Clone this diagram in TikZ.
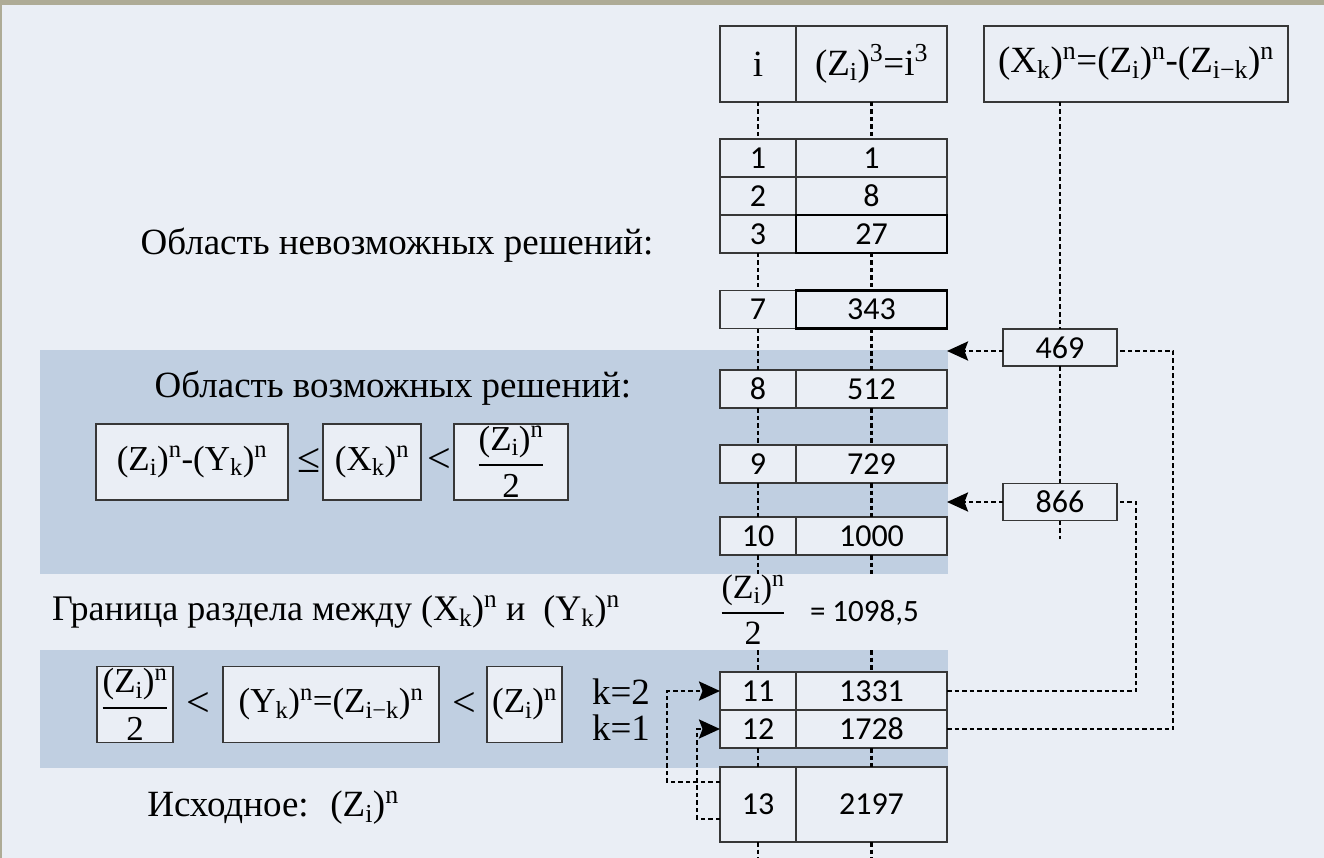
\RequirePackage{fix-cm}
\documentclass[tikz,border=0pt]{standalone}
\usepackage{amsmath}
\usepackage{fontspec}
\setmainfont{Liberation Serif}
\newfontfamily\numfont{Carlito}
\usetikzlibrary{arrows.meta,calc}
\definecolor{bgc}{RGB}{234,238,245}
\definecolor{bandc}{RGB}{192,207,225}
\definecolor{framec}{RGB}{174,171,150}
\definecolor{boxc}{RGB}{55,55,55}
\newcommand\Zi{(Z\textsubscript{i})}
\newcommand\sups[1]{\textsuperscript{#1}}
\newcommand\subs[1]{\textsubscript{#1}}
\newcommand\zfrac{$\genfrac{}{}{1.6pt}{0}{\text{\Zi\sups{n}}}{\text{2}}$}
\begin{document}
\begin{tikzpicture}[x=1pt,y=-1pt,
  every node/.style={inner sep=0pt, outer sep=0pt},
  cell/.style={draw=boxc, line width=1.3pt, fill=bgc, minimum height=38pt, font=\numfont\fontsize{32}{35}\selectfont},
  icell/.style={cell, minimum width=76pt},
  vcell/.style={cell, minimum width=151pt},
  vbold/.style={vcell, draw=black, line width=2.4pt},
  hdr/.style={draw=boxc, line width=1.3pt, fill=bgc, minimum height=76pt, font=\fontsize{37}{42}\selectfont},
  fbx/.style={draw=boxc, line width=1.3pt, fill=bgc, minimum height=76pt, font=\fontsize{35}{40}\selectfont},
  lbl/.style={font=\fontsize{37}{42}\selectfont},
  rel/.style={font=\fontsize{42}{46}\selectfont},
  link/.style={line width=2.7pt, dash pattern=on 4.5pt off 3pt},
  arr/.style={link, -{Stealth[length=21pt,width=19pt,inset=3.5pt]}},
  coldash/.style={line width=2.7pt, dash pattern=on 4.5pt off 3pt}
]
\useasboundingbox (0,0) rectangle (1324,858);
\fill[bgc] (0,0) rectangle (1324,858);
\fill[framec] (0,0) rectangle (1324,5);
\fill[framec] (0,0) rectangle (2,858);
% bands
\fill[bandc] (40,350) rectangle (948,574);
\fill[bandc] (40,650) rectangle (948,768);
\coordinate (b1s) at (0,574);
\coordinate (b2n) at (0,650);
\coordinate (bot) at (0,858);
% headers
\node[hdr, minimum width=76pt] (ih) at (758,64) {i};
\node[hdr, minimum width=151pt] (vh) at (871.5,64) {\Zi\sups{3}=i\sups{3}};
\node[hdr, minimum width=304pt] (xh) at (1136,64) {(X\subs{k})\sups{n}=\Zi\sups{n}-(Z\subs{i−k})\sups{n}};
% rows
\node[icell] (i1) at (758,158) {1};   \node[vcell] (v1) at (871.5,158) {1};
\node[icell] (i2) at (758,196) {2};   \node[vcell] (v2) at (871.5,196) {8};
\node[icell] (i3) at (758,234) {3};   \node[vbold] (v3) at (871.5,234) {27};
\node[icell] (i7) at (758,309.5) {7}; \node[vbold] (v7) at (871.5,309.5) {343};
\node[icell] (i8) at (758,389) {8};   \node[vcell] (v8) at (871.5,389) {512};
\node[icell] (i9) at (758,464) {9};   \node[vcell] (v9) at (871.5,464) {729};
\node[icell] (i10) at (758,536) {10}; \node[vcell] (v10) at (871.5,536) {1000};
\node[icell] (i11) at (758,691) {11}; \node[vcell] (v11) at (871.5,691) {1331};
\node[icell] (i12) at (758,729) {12}; \node[vcell] (v12) at (871.5,729) {1728};
\node[icell, minimum height=75pt] (i13) at (758,804.5) {13};
\node[vcell, minimum height=75pt] (v13) at (871.5,804.5) {2197};
% right boxes
\node[cell, minimum width=114pt, minimum height=37pt] (n469) at (1060,347.5) {469};
\node[cell, minimum width=114pt, minimum height=37pt] (n866) at (1060,502) {866};
% column dashes
\foreach \c in {i,v}{
  \draw[coldash] (\c h.south) -- (\c 1.north);
  \draw[coldash] (\c 3.south) -- (\c 7.north);
  \draw[coldash] (\c 7.south) -- (\c 8.north);
  \draw[coldash] (\c 8.south) -- (\c 9.north);
  \draw[coldash] (\c 9.south) -- (\c 10.north);
  \draw[coldash] (\c 10.south) -- (\c 10.south |- b1s);
  \draw[coldash] (\c 11.north |- b2n) -- (\c 11.north);
  \draw[coldash] (\c 12.south) -- (\c 13.north);
  \draw[coldash] (\c 13.south) -- (\c 13.south |- bot);
}
\draw[coldash] (n469.north |- xh.south) -- (n469.north);
\draw[coldash] (n469.south) -- (n866.north);
\draw[coldash] (n866.south) -- ++(0,18);
% texts
\node[lbl] (t1) at (397,245) {Область невозможных решений:};
\node[lbl] (t2) at (393,388) {Область возможных решений:};
\node[font=\fontsize{36}{41}\selectfont, anchor=west] (t3) at (52,612) {Граница раздела между (X\subs{k})\sups{n} и~ (Y\subs{k})\sups{n}};
\node[lbl] (t4) at (273,808) {Исходное:~ \Zi\sups{n}};
% formula row 1
\node[fbx, minimum width=192pt] (fa) at (192,462) {\Zi\sups{n}-(Y\subs{k})\sups{n}};
\node[rel] (le) at (309,460) {≤};
\node[fbx, minimum width=98pt] (fb) at (372,462) {(X\subs{k})\sups{n}};
\node[rel] (lt1) at (439,460) {<};
\node[fbx, minimum width=114pt] (fc) at (511,462) {\zfrac};
% formula row 2
\node[fbx, minimum width=76pt] (ga) at (135,704.5) {\zfrac};
\node[rel] (lt2) at (198,704) {<};
\node[fbx, minimum width=216pt] (gb) at (331,704.5) {(Y\subs{k})\sups{n}=(Z\subs{i−k})\sups{n}};
\node[rel] (lt3) at (464,704) {<};
\node[fbx, minimum width=75pt] (gc) at (524.5,704.5) {\Zi\sups{n}};
\node[lbl] (k2) at (621,692) {k=2};
\node[lbl] (k1) at (621,728) {k=1};
% half label
\node[font=\fontsize{34}{38}\selectfont] (hf) at (753,610) {\zfrac};
\node[font=\numfont\fontsize{31}{34}\selectfont, anchor=west] (hv) at (810,613) {= 1098,5};
% connectors
\draw[arr] ([yshift=-3.5pt]n469.west) -- ([yshift=-3.5pt]n469.west -| v8.east);
\draw[arr] (n866.west) -- (n866.west -| v9.east);
\draw[link] (v12.east) -- ++(226,0) |- ([yshift=-3.5pt]n469.east);
\draw[link] (v11.east) -- ++(189,0) |- (n866.east);
\draw[arr] ([yshift=22.5pt]i13.west) -- ++(-53,0) |- (i11.west);
\draw[arr] ([yshift=-14.5pt]i13.west) -- ++(-23,0) |- (i12.west);
\end{tikzpicture}
\end{document}
